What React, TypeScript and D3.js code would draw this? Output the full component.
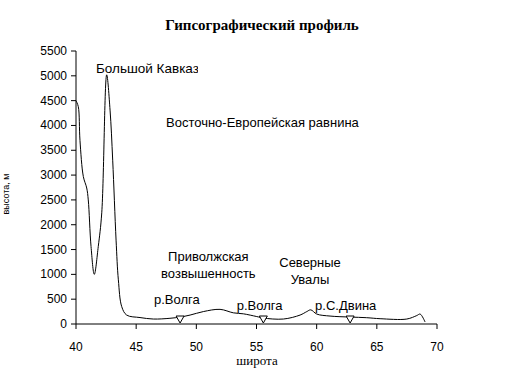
import React from "react";
import * as d3 from "d3";

const latitudes = [40, 40.19, 40.33, 40.61, 40.89, 41.02, 41.25, 41.52, 41.85, 42.14, 42.55, 42.83, 43.05, 43.33, 43.52, 43.8, 44.21, 45.32, 46.43, 47.81, 48.65, 49.48, 50.58, 51.97, 53.08, 53.91, 55.02, 55.57, 57.23, 58.62, 59.18, 59.51, 60.01, 61.11, 62.78, 64.16, 65.27, 67.49, 68.32, 68.6, 69.01];
const heights = [4500, 4380, 3700, 2970, 2740, 2500, 1560, 1000, 1560, 2240, 5020, 4310, 3300, 1690, 890, 350, 180, 130, 100, 115, 140, 180, 250, 295, 225, 205, 150, 120, 100, 180, 250, 285, 200, 160, 140, 127, 107, 100, 170, 200, 40];

const riverLats = [48.65, 55.57, 62.78];
const xTicks = [40, 45, 50, 55, 60, 65, 70];
const yTicks = [0, 500, 1000, 1500, 2000, 2500, 3000, 3500, 4000, 4500, 5000, 5500];

const labels = [
  { text: "Восточно-Европейская равнина", lat: 47.48, h: 3969, anchor: "start" },
  { text: "Приволжская", lat: 51.0, h: 1269, anchor: "middle" },
  { text: "возвышенность", lat: 51.0, h: 927, anchor: "middle" },
  { text: "Северные", lat: 59.45, h: 1148, anchor: "middle" },
  { text: "Увалы", lat: 59.45, h: 806, anchor: "middle" },
  { text: "р.Волга", lat: 46.48, h: 403, anchor: "start" },
  { text: "р.Волга", lat: 53.36, h: 282, anchor: "start" },
  { text: "р.С.Двина", lat: 59.87, h: 282, anchor: "start" },
];

export default function App() {
  const W = 525, H = 380;
  const left = 76, right = 437, top = 51, bottom = 324;
  const x = d3.scaleLinear().domain([40, 70]).range([left, right]);
  const y = d3.scaleLinear().domain([0, 5500]).range([bottom, top]);
  const pts: [number, number][] = latitudes.map((l, i) => [l, heights[i]]);
  const line = d3
    .line<[number, number]>()
    .x((d) => x(d[0]))
    .y((d) => y(d[1]))
    .curve(d3.curveCatmullRom.alpha(0.5));
  const sans = "'Liberation Sans', Arial, sans-serif";
  const serif = "'Liberation Serif', 'Times New Roman', serif";
  return (
    <svg width={W} height={H} style={{ position: "absolute", left: 0, top: 0, background: "#fff" }}>
      <defs>
        <clipPath id="kavclip">
          <rect x={0} y={0} width={198} height={H} />
        </clipPath>
      </defs>
      <text x={262} y={30} textAnchor="middle" fontFamily={serif} fontWeight="bold" fontSize={15}>
        Гипсографический профиль
      </text>
      {/* y axis */}
      <line x1={left} x2={left} y1={top} y2={bottom} stroke="#000" />
      {yTicks.map((t) => (
        <g key={t}>
          <line x1={left - 5} x2={left} y1={y(t)} y2={y(t)} stroke="#000" />
          <text x={67} y={y(t) + 4} textAnchor="end" fontFamily={sans} fontSize={12}>
            {t}
          </text>
        </g>
      ))}
      {/* x axis */}
      <line x1={left} x2={right} y1={bottom} y2={bottom} stroke="#000" />
      {xTicks.map((t) => (
        <g key={t}>
          <line x1={x(t)} x2={x(t)} y1={bottom} y2={bottom + 5} stroke="#000" />
          <text x={x(t)} y={351} textAnchor="middle" fontFamily={sans} fontSize={12}>
            {t}
          </text>
        </g>
      ))}
      <text x={257} y={365} textAnchor="middle" fontFamily={serif} fontSize={13}>
        широта
      </text>
      <text transform="translate(9,194) rotate(-90)" textAnchor="middle" fontFamily={sans} fontSize={9}>
        высота, м
      </text>
      {/* profile */}
      <path d={line(pts) || ""} fill="none" stroke="#000" strokeWidth={1} />
      {riverLats.map((l, i) => (
        <path
          key={i}
          d={`M${x(l) - 4},${bottom - 8} L${x(l) + 4},${bottom - 8} L${x(l)},${bottom - 1} Z`}
          fill="#fff"
          stroke="#000"
          strokeWidth={1}
        />
      ))}
      <g clipPath="url(#kavclip)">
        <text x={96} y={73} fontFamily={sans} fontSize={13.5}>
          Большой Кавказ
        </text>
      </g>
      {labels.map((lb, i) => (
        <text
          key={i}
          x={x(lb.lat)}
          y={y(lb.h)}
          textAnchor={lb.anchor as any}
          fontFamily={sans}
          fontSize={13}
        >
          {lb.text}
        </text>
      ))}
    </svg>
  );
}
